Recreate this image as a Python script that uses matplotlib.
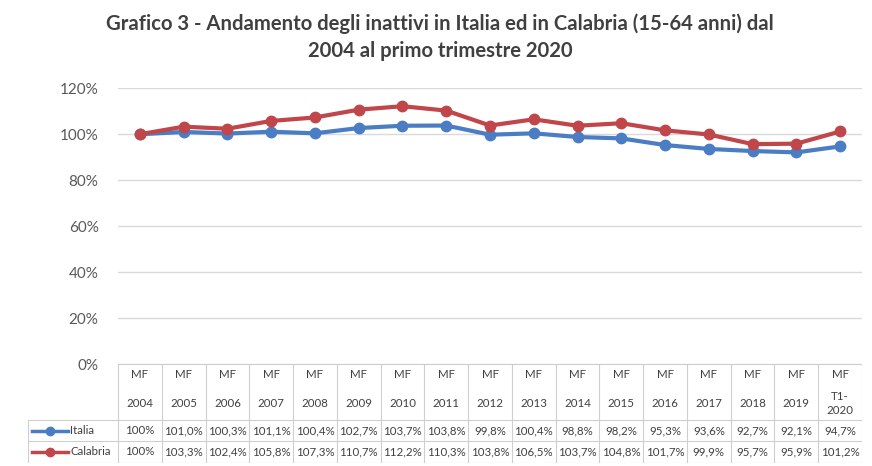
import numpy as np
import matplotlib
matplotlib.use('Agg')
import matplotlib.pyplot as plt

years = ['2004', '2005', '2006', '2007', '2008', '2009', '2010', '2011', '2012',
         '2013', '2014', '2015', '2016', '2017', '2018', '2019', 'T1-\n2020']
italia = [100, 101.0, 100.3, 101.1, 100.4, 102.7, 103.7, 103.8, 99.8,
          100.4, 98.8, 98.2, 95.3, 93.6, 92.7, 92.1, 94.7]
calabria = [100, 103.3, 102.4, 105.8, 107.3, 110.7, 112.2, 110.3, 103.8,
            106.5, 103.7, 104.8, 101.7, 99.9, 95.7, 95.9, 101.2]
yticks = [0, 20, 40, 60, 80, 100, 120]

BLUE = '#4A7DC4'
RED = '#C0464A'
TXT = '#404040'
GRID = '#D9D9D9'

plt.rcParams['font.family'] = ['Lato', 'DejaVu Sans']


def fmt(v):
    if v == 100:
        return '100%'
    return ('%.1f%%' % v).replace('.', ',')


W, H = 872, 466
fig = plt.figure(figsize=(W / 100, H / 100), dpi=100)

# pixel layout
x0, x1 = 118, 862      # table / plot area
y_top, y_zero = 88.3, 364
n = len(years)
colw = (x1 - x0) / n

ax = fig.add_axes([x0 / W, 1 - y_zero / H, (x1 - x0) / W, (y_zero - y_top) / H])
x = np.arange(n)
ax.plot(x, italia, color=BLUE, lw=3, marker='o', ms=7.5, zorder=3)
ax.plot(x, calabria, color=RED, lw=3, marker='o', ms=7.5, zorder=4)
ax.set_xlim(-0.5, n - 0.5)
ax.set_ylim(0, 120)
ax.set_yticks(yticks)
ax.set_yticklabels(['%d%%' % t for t in yticks], fontsize=11, color='#595959')
ax.set_xticks([])
ax.grid(axis='y', color=GRID, lw=1)
ax.set_axisbelow(True)
for s in ax.spines.values():
    s.set_visible(False)
ax.tick_params(axis='y', length=0, pad=14)

# data table below the plot
leg_left = 28
tab_bottom = 463
tab = fig.add_axes([leg_left / W, 1 - tab_bottom / H, (x1 - leg_left) / W, (tab_bottom - y_zero) / H])
xl = -0.5 - (x0 - leg_left) / colw
tab.set_xlim(xl, n - 0.5)
tab.set_ylim(tab_bottom, y_zero)
tab.axis('off')
row1, row2 = 420, 441.5
lc = '#CFCFCF'
for i in range(n + 1):
    tab.plot([i - 0.5, i - 0.5], [y_zero, tab_bottom], color=lc, lw=0.8)
tab.plot([xl, xl], [row1, tab_bottom], color=lc, lw=0.8)
tab.plot([-0.5, n - 0.5], [y_zero, y_zero], color=lc, lw=0.8)
for yy in (row1, row2, tab_bottom):
    tab.plot([xl, n - 0.5], [yy, yy], color=lc, lw=0.8)

fs = 8.3
for i, yr in enumerate(years):
    tab.text(i, 375, 'MF', ha='center', va='center', fontsize=fs, color=TXT)
    tab.text(i, 403.5, yr, ha='center', va='center', fontsize=fs, color=TXT,
             linespacing=1.3)
    tab.text(i, 431, fmt(italia[i]), ha='center', va='center', fontsize=fs, color=TXT)
    tab.text(i, 452, fmt(calabria[i]), ha='center', va='center', fontsize=fs, color=TXT)

u = 1 / colw
for yy, col, name in ((431, BLUE, 'Italia'), (452, RED, 'Calabria')):
    tab.plot([xl + 4 * u, xl + 40 * u], [yy, yy], color=col, lw=2.5)
    tab.plot([xl + 22 * u], [yy], color=col, marker='o', ms=6)
    tab.text(xl + 42 * u, yy, name, ha='left', va='center', fontsize=fs, color=TXT)

fig.text(440 / W, 1 - 37 / H,
         'Grafico 3 - Andamento degli inattivi in Italia ed in Calabria (15-64 anni) dal\n'
         '2004 al primo trimestre 2020',
         ha='center', va='center', fontsize=14.6, fontweight='bold', color=TXT,
         linespacing=1.45)

fig.savefig('out.png', dpi=100)
